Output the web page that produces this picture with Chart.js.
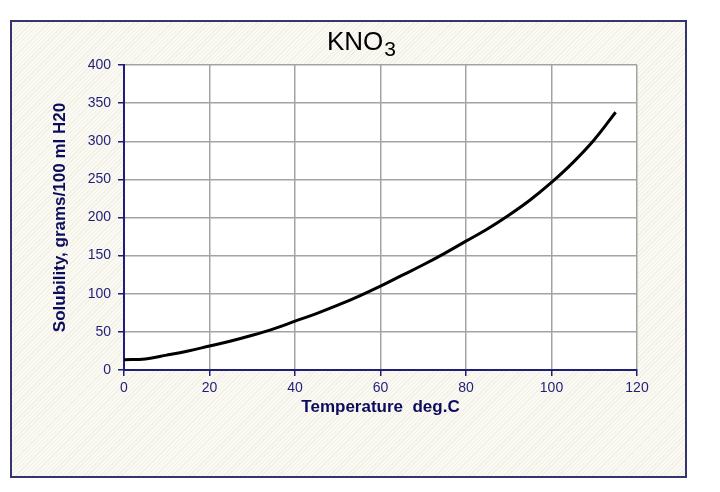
<!DOCTYPE html>
<html>
<head>
<meta charset="utf-8">
<script src="https://cdn.jsdelivr.net/npm/chart.js@4.4.1/dist/chart.umd.min.js"></script>
<style>
  body { margin: 0; background: #fff; }
  #wrap { position: relative; width: 720px; height: 492px; }
  #frame {
    position: absolute; left: 10px; top: 20px; width: 673px; height: 454px;
    border: 2px solid #34346e;
    background: repeating-linear-gradient(135deg, #fbf9f3 0px, #fbf9f3 2px, #f2efe5 2px, #f2efe5 3px);
  }
  #chart { position: absolute; left: 0; top: 0; }
</style>
</head>
<body>
<div id="wrap">
  <div id="frame"></div>
  <canvas id="chart" width="720" height="492"></canvas>
</div>
<script>
const temps = [0, 5, 10, 15, 20, 25, 30, 35, 40, 45, 50, 55, 60, 65, 70, 75, 80, 85, 90, 95, 100, 105, 110, 115];
const solubility = [13.5, 14.5, 19.5, 25, 31.5, 38, 45.5, 54, 64, 74, 85, 97, 110, 124, 138, 153, 169, 185, 203, 223, 246, 272, 302, 338];

const navy = '#1f1f78';
const titleNavy = '#0c0c5c';
const font = '"Liberation Sans", Arial, sans-serif';

const ctx = document.getElementById('chart').getContext('2d');
const kno3Chart = new Chart(ctx, {
    type: 'line',
    data: {
        datasets: [{
            data: temps.map((t, i) => ({ x: t, y: solubility[i] })),
            borderColor: '#000',
            borderWidth: 3,
            pointRadius: 0,
            tension: 0.4,
            fill: false
        }]
    },
    options: {
        responsive: false,
        animation: false,
        layout: {
            padding: { left: 49, right: 83, top: 65, bottom: 72 }
        },
        plugins: {
            legend: { display: false },
            title: { display: false },
            tooltip: { enabled: false }
        },
        scales: {
            x: {
                type: 'linear',
                min: 0,
                max: 120,
                afterFit: (s) => { s.height = 50; },
                ticks: {
                    stepSize: 20,
                    color: navy,
                    padding: 4,
                    font: { family: font, size: 14 }
                },
                grid: {
                    color: '#a3a3a3',
                    lineWidth: 1.5,
                    tickColor: navy,
                    tickLength: 6
                },
                border: { color: navy, width: 2 },
                title: {
                    display: true,
                    text: 'Temperature  deg.C',
                    color: titleNavy,
                    padding: { top: 0, bottom: 2 },
                    font: { family: font, size: 17, weight: 'bold' }
                }
            },
            y: {
                min: 0,
                max: 400,
                afterFit: (s) => { s.width = 75; },
                ticks: {
                    stepSize: 50,
                    color: navy,
                    padding: 7,
                    font: { family: font, size: 14 }
                },
                grid: {
                    color: '#a3a3a3',
                    lineWidth: 1.5,
                    tickColor: navy,
                    tickLength: 6
                },
                border: { color: navy, width: 2 },
                title: {
                    display: true,
                    text: 'Solubility, grams/100 ml H20',
                    color: titleNavy,
                    padding: { top: 1, bottom: 0 },
                    font: { family: font, size: 17, weight: 'bold' }
                }
            }
        }
    },
    plugins: [{
        beforeDraw: function (chart) {
            const a = chart.chartArea;
            const c = chart.ctx;
            c.save();
            c.fillStyle = '#fff';
            c.fillRect(a.left, a.top, a.right - a.left, a.bottom - a.top);
            c.restore();
        },
        afterDraw: function (chart) {
            // title KNO3 with subscript 3
            const c = chart.ctx;
            c.save();
            c.fillStyle = '#000';
            c.textBaseline = 'alphabetic';
            c.font = '26px ' + font;
            const w1 = c.measureText('KNO').width;
            c.font = '21px ' + font;
            const w2 = c.measureText('3').width;
            const x0 = 361 - (w1 + w2) / 2;
            c.font = '26px ' + font;
            c.fillText('KNO', x0, 50);
            c.font = '21px ' + font;
            c.fillText('3', x0 + w1 + 1, 56);
            c.restore();
        }
    }]
});
</script>
</body>
</html>
